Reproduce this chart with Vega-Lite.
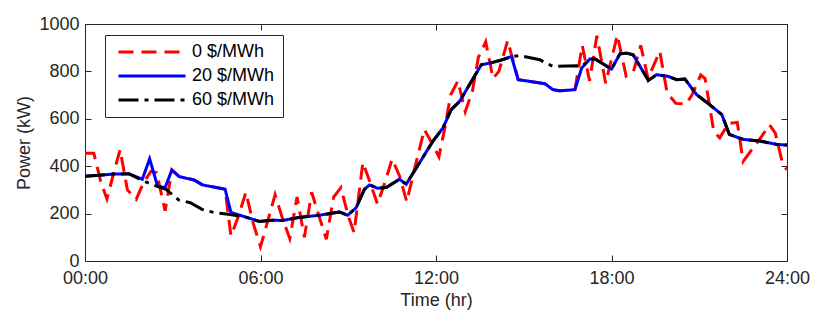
{
  "$schema": "https://vega.github.io/schema/vega-lite/v6.json",
  "width": 702,
  "height": 237,
  "autosize": {"type": "none"},
  "padding": {"left": 85, "top": 24, "right": 43, "bottom": 59},
  "background": "white",
  "config": {
    "font": "Liberation Sans",
    "view": {"stroke": "#262626", "strokeWidth": 1},
    "axis": {
      "grid": false,
      "domain": false,
      "tickColor": "#262626",
      "tickSize": -6,
      "tickWidth": 1,
      "labelColor": "#262626",
      "labelFont": "Liberation Sans",
      "labelFontSize": 18,
      "titleFont": "Liberation Sans",
      "titleFontSize": 18,
      "titleFontWeight": "normal",
      "titleColor": "#262626"
    },
    "legend": {
      "orient": "none",
      "legendX": 20,
      "legendY": 11,
      "strokeColor": "#262626",
      "fillColor": "white",
      "padding": 8,
      "symbolType": "M-6.7,0H6.7",
      "symbolSize": 100,
      "symbolOffset": 30,
      "symbolStrokeWidth": 3,
      "labelFontSize": 18,
      "labelFont": "Liberation Sans",
      "labelColor": "black",
      "labelAlign": "left",
      "rowPadding": 6,
      "labelOffset": 31
    }
  },
  "datasets": {
    "rows": [
      {"t": 0, "series": "60 $/MWh", "p": 358}, {"t": 0.5, "series": "60 $/MWh", "p": 362}, {"t": 1.0, "series": "60 $/MWh", "p": 367}, {"t": 1.5, "series": "60 $/MWh", "p": 368}, {"t": 1.95, "series": "60 $/MWh", "p": 340}, {"t": 2.4, "series": "60 $/MWh", "p": 318}, {"t": 2.77, "series": "60 $/MWh", "p": 302}, {"t": 3.2, "series": "60 $/MWh", "p": 258}, {"t": 3.6, "series": "60 $/MWh", "p": 246}, {"t": 4.0, "series": "60 $/MWh", "p": 218}, {"t": 4.4, "series": "60 $/MWh", "p": 205}, {"t": 4.9, "series": "60 $/MWh", "p": 197}, {"t": 5.5, "series": "60 $/MWh", "p": 185}, {"t": 5.96, "series": "60 $/MWh", "p": 167}, {"t": 6.4, "series": "60 $/MWh", "p": 172}, {"t": 6.75, "series": "60 $/MWh", "p": 171}, {"t": 7.33, "series": "60 $/MWh", "p": 184}, {"t": 8.01, "series": "60 $/MWh", "p": 193}, {"t": 8.7, "series": "60 $/MWh", "p": 207}, {"t": 8.98, "series": "60 $/MWh", "p": 193}, {"t": 9.27, "series": "60 $/MWh", "p": 225}, {"t": 9.55, "series": "60 $/MWh", "p": 302}, {"t": 9.73, "series": "60 $/MWh", "p": 321}, {"t": 10.0, "series": "60 $/MWh", "p": 307}, {"t": 10.3, "series": "60 $/MWh", "p": 310}, {"t": 10.75, "series": "60 $/MWh", "p": 345}, {"t": 10.98, "series": "60 $/MWh", "p": 324}, {"t": 11.44, "series": "60 $/MWh", "p": 415}, {"t": 11.89, "series": "60 $/MWh", "p": 505}, {"t": 12.24, "series": "60 $/MWh", "p": 562}, {"t": 12.52, "series": "60 $/MWh", "p": 639}, {"t": 12.81, "series": "60 $/MWh", "p": 674}, {"t": 13.38, "series": "60 $/MWh", "p": 793}, {"t": 13.55, "series": "60 $/MWh", "p": 828}, {"t": 13.84, "series": "60 $/MWh", "p": 835}, {"t": 14.18, "series": "60 $/MWh", "p": 846}, {"t": 14.63, "series": "60 $/MWh", "p": 863}, {"t": 14.86, "series": "60 $/MWh", "p": 867}, {"t": 15.55, "series": "60 $/MWh", "p": 849}, {"t": 16.0, "series": "60 $/MWh", "p": 821}, {"t": 16.8, "series": "60 $/MWh", "p": 824}, {"t": 16.98, "series": "60 $/MWh", "p": 821}, {"t": 17.26, "series": "60 $/MWh", "p": 852}, {"t": 17.43, "series": "60 $/MWh", "p": 853}, {"t": 18.0, "series": "60 $/MWh", "p": 810}, {"t": 18.29, "series": "60 $/MWh", "p": 874}, {"t": 18.52, "series": "60 $/MWh", "p": 877}, {"t": 18.74, "series": "60 $/MWh", "p": 870}, {"t": 19.26, "series": "60 $/MWh", "p": 762}, {"t": 19.54, "series": "60 $/MWh", "p": 786}, {"t": 19.94, "series": "60 $/MWh", "p": 779}, {"t": 20.23, "series": "60 $/MWh", "p": 765}, {"t": 20.51, "series": "60 $/MWh", "p": 768}, {"t": 20.91, "series": "60 $/MWh", "p": 702}, {"t": 21.26, "series": "60 $/MWh", "p": 669}, {"t": 21.77, "series": "60 $/MWh", "p": 618}, {"t": 22.03, "series": "60 $/MWh", "p": 534}, {"t": 22.51, "series": "60 $/MWh", "p": 513}, {"t": 23.08, "series": "60 $/MWh", "p": 506}, {"t": 23.65, "series": "60 $/MWh", "p": 492}, {"t": 24.0, "series": "60 $/MWh", "p": 489},

      {"t": 0, "series": "20 $/MWh", "p": 358}, {"t": 0.5, "series": "20 $/MWh", "p": 362}, {"t": 1.0, "series": "20 $/MWh", "p": 367}, {"t": 1.5, "series": "20 $/MWh", "p": 368}, {"t": 1.96, "series": "20 $/MWh", "p": 345}, {"t": 2.21, "series": "20 $/MWh", "p": 431}, {"t": 2.48, "series": "20 $/MWh", "p": 316}, {"t": 2.74, "series": "20 $/MWh", "p": 310}, {"t": 2.97, "series": "20 $/MWh", "p": 384}, {"t": 3.22, "series": "20 $/MWh", "p": 356}, {"t": 3.73, "series": "20 $/MWh", "p": 342}, {"t": 4.02, "series": "20 $/MWh", "p": 321}, {"t": 4.79, "series": "20 $/MWh", "p": 303}, {"t": 4.99, "series": "20 $/MWh", "p": 205}, {"t": 5.5, "series": "20 $/MWh", "p": 185}, {"t": 5.96, "series": "20 $/MWh", "p": 167}, {"t": 6.4, "series": "20 $/MWh", "p": 172}, {"t": 6.75, "series": "20 $/MWh", "p": 171}, {"t": 7.33, "series": "20 $/MWh", "p": 184}, {"t": 8.01, "series": "20 $/MWh", "p": 193}, {"t": 8.7, "series": "20 $/MWh", "p": 207}, {"t": 8.98, "series": "20 $/MWh", "p": 193}, {"t": 9.27, "series": "20 $/MWh", "p": 225}, {"t": 9.55, "series": "20 $/MWh", "p": 302}, {"t": 9.73, "series": "20 $/MWh", "p": 321}, {"t": 10.0, "series": "20 $/MWh", "p": 307}, {"t": 10.3, "series": "20 $/MWh", "p": 310}, {"t": 10.75, "series": "20 $/MWh", "p": 345}, {"t": 10.98, "series": "20 $/MWh", "p": 324}, {"t": 11.44, "series": "20 $/MWh", "p": 415}, {"t": 11.89, "series": "20 $/MWh", "p": 505}, {"t": 12.24, "series": "20 $/MWh", "p": 562}, {"t": 12.52, "series": "20 $/MWh", "p": 639}, {"t": 12.81, "series": "20 $/MWh", "p": 674}, {"t": 13.38, "series": "20 $/MWh", "p": 793}, {"t": 13.55, "series": "20 $/MWh", "p": 828}, {"t": 13.84, "series": "20 $/MWh", "p": 835}, {"t": 14.18, "series": "20 $/MWh", "p": 846}, {"t": 14.58, "series": "20 $/MWh", "p": 863}, {"t": 14.81, "series": "20 $/MWh", "p": 765}, {"t": 15.2, "series": "20 $/MWh", "p": 758}, {"t": 15.72, "series": "20 $/MWh", "p": 748}, {"t": 16.0, "series": "20 $/MWh", "p": 723}, {"t": 16.23, "series": "20 $/MWh", "p": 718}, {"t": 16.75, "series": "20 $/MWh", "p": 723}, {"t": 16.98, "series": "20 $/MWh", "p": 814}, {"t": 17.26, "series": "20 $/MWh", "p": 852}, {"t": 17.43, "series": "20 $/MWh", "p": 853}, {"t": 18.0, "series": "20 $/MWh", "p": 810}, {"t": 18.29, "series": "20 $/MWh", "p": 874}, {"t": 18.52, "series": "20 $/MWh", "p": 877}, {"t": 18.74, "series": "20 $/MWh", "p": 870}, {"t": 19.26, "series": "20 $/MWh", "p": 762}, {"t": 19.54, "series": "20 $/MWh", "p": 786}, {"t": 19.94, "series": "20 $/MWh", "p": 779}, {"t": 20.23, "series": "20 $/MWh", "p": 765}, {"t": 20.51, "series": "20 $/MWh", "p": 768}, {"t": 20.91, "series": "20 $/MWh", "p": 702}, {"t": 21.26, "series": "20 $/MWh", "p": 669}, {"t": 21.77, "series": "20 $/MWh", "p": 618}, {"t": 22.03, "series": "20 $/MWh", "p": 534}, {"t": 22.51, "series": "20 $/MWh", "p": 513}, {"t": 23.08, "series": "20 $/MWh", "p": 506}, {"t": 23.65, "series": "20 $/MWh", "p": 492}, {"t": 24.0, "series": "20 $/MWh", "p": 489},

      {"t": 0, "series": "0 $/MWh", "p": 455}, {"t": 0.3, "series": "0 $/MWh", "p": 455}, {"t": 0.55, "series": "0 $/MWh", "p": 330}, {"t": 0.75, "series": "0 $/MWh", "p": 262}, {"t": 1.0, "series": "0 $/MWh", "p": 380}, {"t": 1.2, "series": "0 $/MWh", "p": 470}, {"t": 1.45, "series": "0 $/MWh", "p": 300}, {"t": 1.75, "series": "0 $/MWh", "p": 260}, {"t": 2.0, "series": "0 $/MWh", "p": 330}, {"t": 2.25, "series": "0 $/MWh", "p": 378}, {"t": 2.45, "series": "0 $/MWh", "p": 372}, {"t": 2.74, "series": "0 $/MWh", "p": 212}, {"t": 2.97, "series": "0 $/MWh", "p": 384}, {"t": 3.22, "series": "0 $/MWh", "p": 356}, {"t": 3.73, "series": "0 $/MWh", "p": 342}, {"t": 4.02, "series": "0 $/MWh", "p": 321}, {"t": 4.79, "series": "0 $/MWh", "p": 303}, {"t": 4.99, "series": "0 $/MWh", "p": 106}, {"t": 5.25, "series": "0 $/MWh", "p": 190}, {"t": 5.5, "series": "0 $/MWh", "p": 290}, {"t": 5.75, "series": "0 $/MWh", "p": 160}, {"t": 6.0, "series": "0 $/MWh", "p": 60}, {"t": 6.25, "series": "0 $/MWh", "p": 170}, {"t": 6.5, "series": "0 $/MWh", "p": 280}, {"t": 6.75, "series": "0 $/MWh", "p": 180}, {"t": 7.0, "series": "0 $/MWh", "p": 95}, {"t": 7.25, "series": "0 $/MWh", "p": 270}, {"t": 7.5, "series": "0 $/MWh", "p": 100}, {"t": 7.75, "series": "0 $/MWh", "p": 290}, {"t": 8.0, "series": "0 $/MWh", "p": 190}, {"t": 8.25, "series": "0 $/MWh", "p": 92}, {"t": 8.5, "series": "0 $/MWh", "p": 270}, {"t": 8.75, "series": "0 $/MWh", "p": 310}, {"t": 9.0, "series": "0 $/MWh", "p": 190}, {"t": 9.2, "series": "0 $/MWh", "p": 120}, {"t": 9.5, "series": "0 $/MWh", "p": 416}, {"t": 9.75, "series": "0 $/MWh", "p": 330}, {"t": 10.0, "series": "0 $/MWh", "p": 240}, {"t": 10.25, "series": "0 $/MWh", "p": 330}, {"t": 10.5, "series": "0 $/MWh", "p": 430}, {"t": 10.75, "series": "0 $/MWh", "p": 360}, {"t": 11.0, "series": "0 $/MWh", "p": 250}, {"t": 11.25, "series": "0 $/MWh", "p": 380}, {"t": 11.6, "series": "0 $/MWh", "p": 555}, {"t": 11.85, "series": "0 $/MWh", "p": 500}, {"t": 12.1, "series": "0 $/MWh", "p": 440}, {"t": 12.3, "series": "0 $/MWh", "p": 560}, {"t": 12.5, "series": "0 $/MWh", "p": 700}, {"t": 12.75, "series": "0 $/MWh", "p": 760}, {"t": 13.0, "series": "0 $/MWh", "p": 630}, {"t": 13.25, "series": "0 $/MWh", "p": 720}, {"t": 13.45, "series": "0 $/MWh", "p": 860}, {"t": 13.7, "series": "0 $/MWh", "p": 925}, {"t": 13.95, "series": "0 $/MWh", "p": 770}, {"t": 14.15, "series": "0 $/MWh", "p": 800}, {"t": 14.45, "series": "0 $/MWh", "p": 930}, {"t": 14.81, "series": "0 $/MWh", "p": 765}, {"t": 15.2, "series": "0 $/MWh", "p": 758}, {"t": 15.72, "series": "0 $/MWh", "p": 748}, {"t": 16.0, "series": "0 $/MWh", "p": 723}, {"t": 16.23, "series": "0 $/MWh", "p": 718}, {"t": 16.75, "series": "0 $/MWh", "p": 723}, {"t": 17.0, "series": "0 $/MWh", "p": 910}, {"t": 17.25, "series": "0 $/MWh", "p": 760}, {"t": 17.5, "series": "0 $/MWh", "p": 950}, {"t": 17.8, "series": "0 $/MWh", "p": 750}, {"t": 18.2, "series": "0 $/MWh", "p": 953}, {"t": 18.5, "series": "0 $/MWh", "p": 780}, {"t": 18.75, "series": "0 $/MWh", "p": 800}, {"t": 19.0, "series": "0 $/MWh", "p": 910}, {"t": 19.25, "series": "0 $/MWh", "p": 770}, {"t": 19.65, "series": "0 $/MWh", "p": 885}, {"t": 19.9, "series": "0 $/MWh", "p": 710}, {"t": 20.2, "series": "0 $/MWh", "p": 665}, {"t": 20.55, "series": "0 $/MWh", "p": 662}, {"t": 20.75, "series": "0 $/MWh", "p": 700}, {"t": 21.05, "series": "0 $/MWh", "p": 785}, {"t": 21.2, "series": "0 $/MWh", "p": 770}, {"t": 21.5, "series": "0 $/MWh", "p": 545}, {"t": 21.7, "series": "0 $/MWh", "p": 520}, {"t": 22.0, "series": "0 $/MWh", "p": 580}, {"t": 22.3, "series": "0 $/MWh", "p": 585}, {"t": 22.5, "series": "0 $/MWh", "p": 420}, {"t": 22.8, "series": "0 $/MWh", "p": 470}, {"t": 23.1, "series": "0 $/MWh", "p": 520}, {"t": 23.4, "series": "0 $/MWh", "p": 575}, {"t": 23.6, "series": "0 $/MWh", "p": 540}, {"t": 23.85, "series": "0 $/MWh", "p": 410}, {"t": 24.0, "series": "0 $/MWh", "p": 385}
    ]
  },
  "data": {"name": "rows"},
  "resolve": {"axis": {"x": "independent", "y": "independent"}},
  "layer": [
    {
      "layer": [
        {"transform": [{"filter": "datum.series === '0 $/MWh'"}], "mark": {"type": "line", "strokeWidth": 3}},
        {"transform": [{"filter": "datum.series === '20 $/MWh'"}], "mark": {"type": "line", "strokeWidth": 3}},
        {"transform": [{"filter": "datum.series === '60 $/MWh'"}], "mark": {"type": "line", "strokeWidth": 3}}
      ],
      "encoding": {
        "x": {"field": "t", "type": "quantitative", "scale": {"domain": [0, 24], "nice": false}, "axis": {"values": [0, 6, 12, 18, 24], "labelExpr": "(datum.value < 10 ? '0' : '') + datum.value + ':00'", "title": "Time (hr)", "labelPadding": 14, "titlePadding": 4, "labelFlush": false}},
        "y": {"field": "p", "type": "quantitative", "scale": {"domain": [0, 1000], "nice": false}, "axis": {"values": [0, 200, 400, 600, 800, 1000], "format": "d", "title": "Power (kW)", "labelPadding": 12, "titlePadding": 5, "labelFlush": false}},
        "color": {"field": "series", "type": "nominal", "scale": {"domain": ["0 $/MWh", "20 $/MWh", "60 $/MWh"], "range": ["#ff0000", "#0000ff", "#000000"]}, "legend": {"title": null}},
        "strokeDash": {"field": "series", "type": "nominal", "scale": {"domain": ["0 $/MWh", "20 $/MWh", "60 $/MWh"], "range": [[15, 8], [1, 0], [20, 6, 4, 6]]}, "legend": {"title": null}}
      }
    },
    {
      "transform": [{"filter": "datum.series === '60 $/MWh'"}],
      "mark": {"type": "line", "opacity": 0},
      "encoding": {
        "x": {"field": "t", "type": "quantitative", "scale": {"domain": [0, 24], "nice": false}, "axis": {"orient": "top", "values": [0, 6, 12, 18, 24], "labels": false, "title": null}},
        "y": {"field": "p", "type": "quantitative", "scale": {"domain": [0, 1000], "nice": false}, "axis": {"orient": "right", "values": [0, 200, 400, 600, 800, 1000], "labels": false, "title": null}}
      }
    }
  ]
}
